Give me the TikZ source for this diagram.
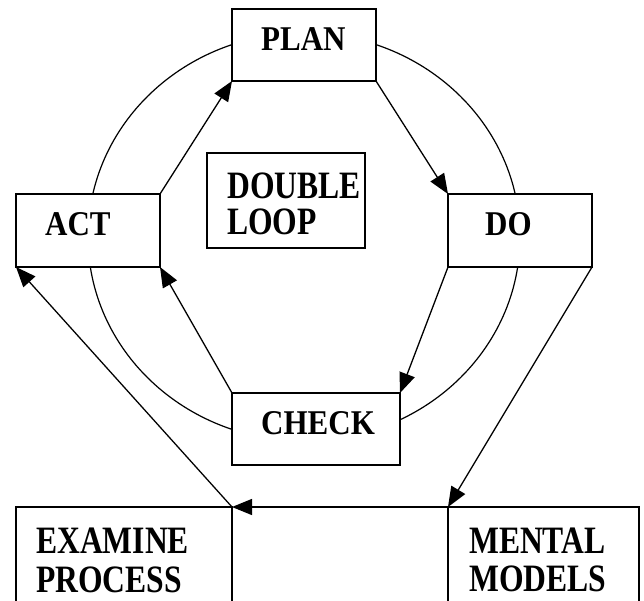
\documentclass[tikz,border=0pt]{standalone}
\usepackage{fontspec}
\setmainfont{Liberation Serif}
\usetikzlibrary{arrows.meta}
\newcommand{\tallA}[1]{\scalebox{1}[1.12]{#1}}
\newcommand{\tallB}[1]{\scalebox{1.02}[1.25]{#1}}
\begin{document}
\begin{tikzpicture}[x=1pt,y=-1pt,
  box/.style={draw=black,line width=1.5pt,fill=white,rectangle,inner sep=0pt,outer sep=0pt},
  lbl/.style={anchor=base west,inner sep=0pt,font=\bfseries\fontsize{31}{37}\selectfont},
  conn/.style={line width=1.3pt,-{Triangle[length=20pt,width=16pt]}},
  loop/.style={line width=1.2pt}]
\useasboundingbox (0,0) rectangle (644,601);
\clip (0,0) rectangle (644,601);
\draw[loop] (304,237) ellipse [x radius=216, y radius=204];
\node[box,minimum width=144pt,minimum height=72pt] (plan) at (304,45) {};
\node[box,minimum width=144pt,minimum height=73pt] (act) at (88,230.5) {};
\node[box,minimum width=144pt,minimum height=73pt] (do) at (520,230.5) {};
\node[box,minimum width=168pt,minimum height=72pt] (check) at (316,429) {};
\node[box,minimum width=158pt,minimum height=95pt] (dl) at (286,200.5) {};
\node[box,minimum width=216pt,minimum height=130pt] (exam) at (124,572) {};
\node[box,minimum width=191pt,minimum height=130pt] (mental) at (543.5,572) {};
\node[lbl] (tplan) at (261,51) {\tallA{PLAN}};
\node[lbl] (tact) at (45,236) {\tallA{ACT}};
\node[lbl] (tdo) at (485,236) {\tallA{DO}};
\node[lbl] (tcheck) at (261,434) {\tallA{CHECK}};
\node[lbl] (tdouble) at (227,199) {\tallB{DOUBLE}};
\node[lbl] (tloop) at (227,235) {\tallB{LOOP}};
\node[lbl] (texam) at (36,553) {\tallB{EXAMINE}};
\node[lbl] (tproc) at (36,592) {\tallB{PROCESS}};
\node[lbl] (tment) at (469,553) {\tallB{MENTAL}};
\node[lbl] (tmod) at (469,591) {\tallB{MODELS}};
\draw[conn] (act.north east) -- (plan.south west);
\draw[conn] (plan.south east) -- (do.north west);
\draw[conn] (do.south west) -- (check.north east);
\draw[conn] (check.north west) -- (act.south east);
\draw[conn] (do.south east) -- (mental.north west);
\draw[conn] (mental.north west) -- (exam.north east);
\draw[conn] (exam.north east) -- (act.south west);
\end{tikzpicture}
\end{document}
